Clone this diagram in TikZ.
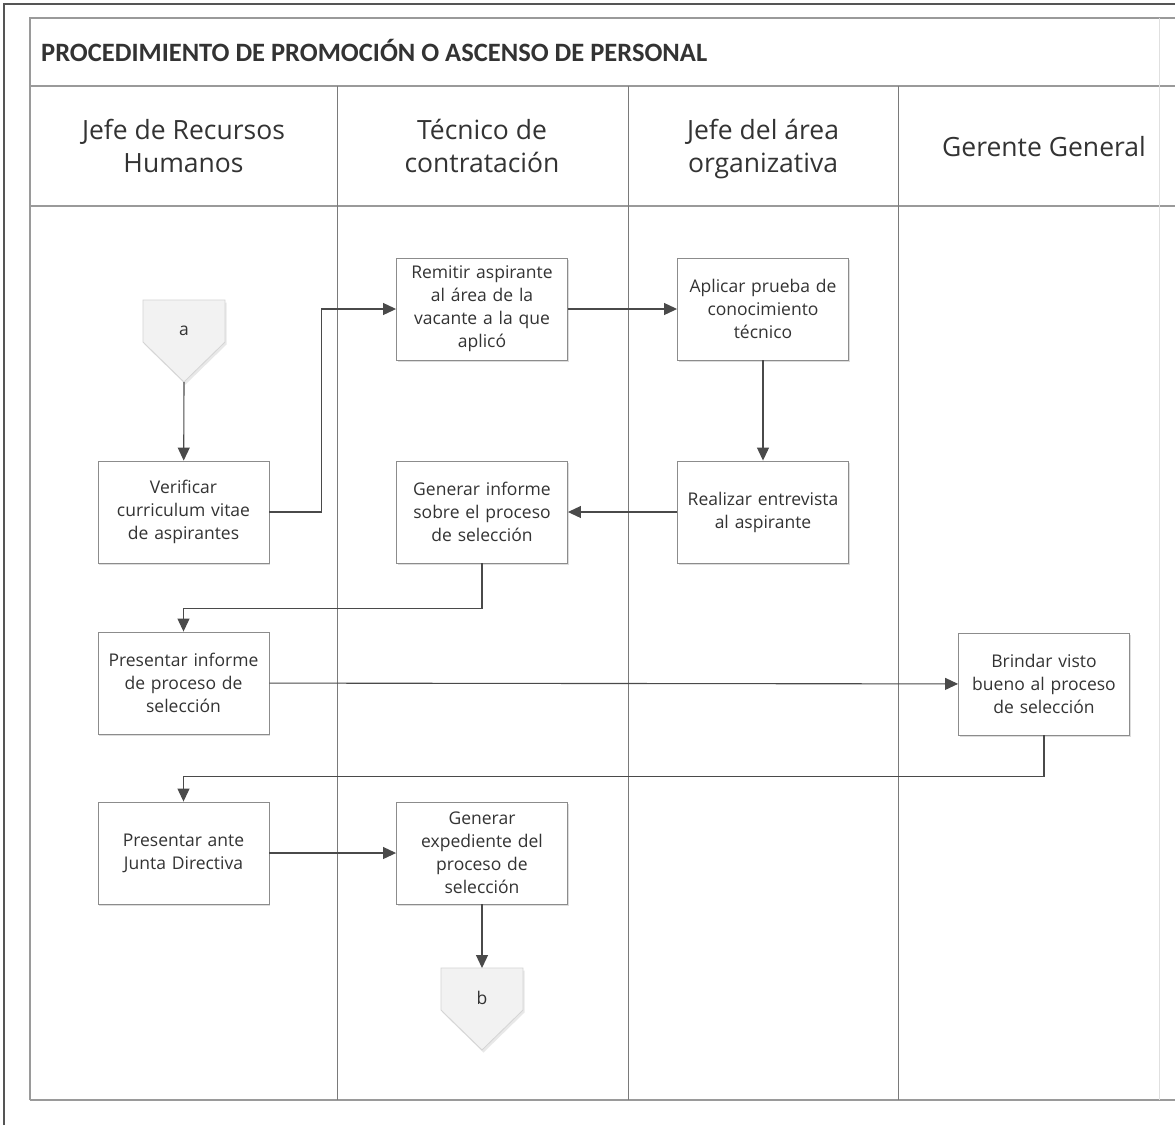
\documentclass[tikz,border=0pt]{standalone}
\usepackage{fontspec}
\setmainfont{Open Sans}
\newfontfamily\titlefont{Carlito}
\usetikzlibrary{arrows.meta,shadows}

\definecolor{ink}{HTML}{333333}
\definecolor{rule}{HTML}{9A9A9A}
\definecolor{lane}{HTML}{7A7A7A}
\definecolor{frame}{HTML}{555555}
\definecolor{wire}{HTML}{4A4A4A}
\definecolor{boxline}{HTML}{8C8C8C}
\definecolor{pagefill}{HTML}{F2F2F2}
\definecolor{pageline}{HTML}{D4D4D4}

\begin{document}
\begin{tikzpicture}[x=1pt,y=-1pt,
  task/.style={draw=boxline, line width=0.9pt, fill=white,
    minimum width=171pt, minimum height=102pt, text width=165pt,
    align=center, inner sep=0pt, text=ink,
    font=\fontsize{17.5}{23}\selectfont,
    drop shadow={shadow xshift=1pt, shadow yshift=-2pt, opacity=0.22, fill=black!60}},
  lanehead/.style={text=ink, align=center, font=\fontsize{26.5}{33}\selectfont},
  flow/.style={draw=wire, line width=1.1pt, -{Triangle[length=13pt,width=12pt]}},
  pagelabel/.style={text=ink, inner sep=0pt, font=\fontsize{17.5}{23}\selectfont},
  pageshape/.style={draw=pageline, fill=pagefill, line width=0.8pt,
    drop shadow={shadow xshift=1.5pt, shadow yshift=-2.5pt, opacity=0.18, fill=black!50}},
  tablerule/.style={draw=rule, line width=1.2pt},
  lanerule/.style={draw=lane, line width=1pt},
]
\useasboundingbox[fill=white] (0,0) rectangle (1175,1125);

% page frame and table grid
\draw[frame, line width=1.3pt] (4,1125) -- (4,4) -- (1175,4);
\draw[tablerule] (30,1100) -- (30,18) -- (1175,18);
\draw[tablerule] (30,86) -- (1175,86);
\draw[tablerule] (30,206) -- (1175,206);
\draw[tablerule] (30,1100) -- (1175,1100);
\draw[lanerule] (337,86) -- (337,1100);
\draw[lanerule] (628,86) -- (628,1100);
\draw[lanerule] (898,86) -- (898,1100);
\draw[black!12, line width=0.8pt] (1159,18) -- (1159,1100);

% title
\node[anchor=base west, inner sep=0pt, text=ink,
  font=\titlefont\bfseries\fontsize{26.5}{30}\selectfont] (title) at (41,61)
  {PROCEDIMIENTO DE PROMOCIÓN O ASCENSO DE PERSONAL};

% lane headers
\node[lanehead] (h1) at (183.5,149.5) {\strut Jefe de Recursos\\Humanos\strut};
\node[lanehead] (h2) at (482,149.5) {\strut Técnico de\\contratación\strut};
\node[lanehead] (h3) at (763,149.5) {\strut Jefe del área\\organizativa\strut};
\node[lanehead] (h4) at (1044,150) {\strut Gerente General};

% off-page connector a
\draw[pageshape] (143,300) -- (225,300) -- (225,342) -- (184,382) -- (143,342) -- cycle;
\node[pagelabel] (a) at (184,331) {a};
\coordinate (atip) at (184,382);

% activities
\node[task] (verif)  at (183.5,512) {Verificar\\curriculum vitae\\de aspirantes};
\node[task] (remit)  at (482,309)   {Remitir aspirante\\al área de la\\vacante a la que\\aplicó};
\node[task] (aplic)  at (763,309)   {Aplicar prueba de\\conocimiento\\técnico};
\node[task] (realiz) at (763,512)   {Realizar entrevista\\al aspirante};
\node[task] (ginf)   at (482,512)   {Generar informe\\sobre el proceso\\de selección};
\node[task] (pinf)   at (183.5,683) {Presentar informe\\de proceso de\\selección};
\node[task] (brind)  at (1044,684)  {Brindar visto\\bueno al proceso\\de selección};
\node[task] (pjunta) at (183.5,853) {Presentar ante\\Junta Directiva};
\node[task] (gexp)   at (482,853)   {Generar\\expediente del\\proceso de\\selección};

% off-page connector b
\draw[pageshape] (441,968) -- (523,968) -- (523,1010) -- (482,1050) -- (441,1010) -- cycle;
\node[pagelabel] (b) at (482,998) {b};
\coordinate (btop) at (482,968);

% flow
\draw[flow] (atip) -- (verif);
\draw[flow] (verif.east) -- ++(52,0) |- (remit.west);
\draw[flow] (remit) -- (aplic);
\draw[flow] (aplic) -- (realiz);
\draw[flow] (realiz) -- (ginf);
\draw[flow] (ginf.south) -- ++(0,45) -| (pinf.north);
\draw[flow] (pinf) -- (brind);
\draw[flow] (brind.south) -- ++(0,41) -| (pjunta.north);
\draw[flow] (pjunta) -- (gexp);
\draw[flow] (gexp) -- (btop);
\end{tikzpicture}
\end{document}
